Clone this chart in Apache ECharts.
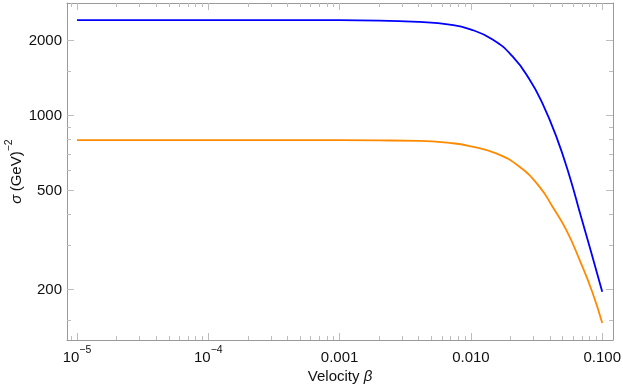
<!DOCTYPE html>
<html>
<head>
<meta charset="utf-8">
<script src="https://cdn.jsdelivr.net/npm/echarts@6/dist/echarts.min.js"></script>
<style>
html,body{margin:0;padding:0;background:#fff;}
#chart{width:623px;height:388px;}
</style>
</head>
<body>
<div id="chart"></div>
<script>
// ---- data (beta, sigma in GeV^-2) ----
const betaBlue  = [1e-5, 1e-4, 5e-4, 0.002, 0.00406, 0.00688, 0.00977, 0.01462, 0.02075, 0.02796, 0.03512, 0.04465, 0.05638, 0.06837, 0.0829, 0.1];
const sigmaBlue = [2418, 2418, 2417, 2407, 2376, 2319, 2225, 2021, 1727, 1396, 1117, 824, 570, 398, 279, 196];

const betaOrange  = [1e-5, 1e-4, 5e-4, 0.002, 0.00406, 0.00688, 0.00977, 0.0156, 0.02346, 0.03332, 0.04184, 0.05321, 0.0672, 0.08437, 0.1];
const sigmaOrange = [796, 796, 796, 794, 791, 776, 754, 704, 622, 517, 430, 347, 263, 194, 146.5];

// ---- ticks (raw values) ----
const xTickValues = [1e-5, 1e-4, 1e-3, 1e-2, 1e-1];
const xTickLabels = ['{m|10}{s|−5}', '{m|10}{s|−4}', '{m|0.001}', '{m|0.010}', '{m|0.100}'];
const xMinorTicks = [9e-6,
  2e-5, 3e-5, 4e-5, 5e-5, 6e-5, 7e-5, 8e-5, 9e-5,
  2e-4, 3e-4, 4e-4, 5e-4, 6e-4, 7e-4, 8e-4, 9e-4,
  2e-3, 3e-3, 4e-3, 5e-3, 6e-3, 7e-3, 8e-3, 9e-3,
  2e-2, 3e-2, 4e-2, 5e-2, 6e-2, 7e-2, 8e-2, 9e-2];
const yTickValues = [200, 500, 1000, 2000];
const yTickLabels = ['200', '500', '1000', '2000'];
const yMinorTicks = [150, 300, 400, 600, 700, 800, 900, 1500];

// axis ranges (log10 units)
const xMinL = -5.076, xMaxL = -0.918;
const yMinL = 2.098, yMaxL = 3.452;

const FONT = '"Liberation Sans", Arial, sans-serif';
const frameColor = '#9a9a9a';
const tickColor = '#bdbdbd';
const L = v => Math.log10(v);

function lookup(vals, labels, lv) {
  for (let i = 0; i < vals.length; i++) {
    if (Math.abs(lv - L(vals[i])) < 1e-6) return labels[i];
  }
  return '';
}
function pairs(xs, ys) { return xs.map((x, i) => [L(x), L(ys[i])]); }

const gridRect = {left: 67, right: 10, top: 3, bottom: 48, containLabel: false, outerBoundsMode: 'none'};

function baseAxis(gridIndex, position, ticks, len, lineShow, mn, mx) {
  return {
    type: 'value', gridIndex, position, min: mn, max: mx, scale: true,
    axisLine: {show: lineShow, onZero: false, lineStyle: {color: frameColor, width: 1}},
    axisTick: {show: true, inside: true, length: len, customValues: ticks.map(L), lineStyle: {color: tickColor, width: 1}},
    minorTick: {show: false},
    splitLine: {show: false},
    axisLabel: {show: false}
  };
}

function xAx(gridIndex, position, ticks, len, withLabels, lineShow) {
  const a = baseAxis(gridIndex, position, ticks, len, lineShow, xMinL, xMaxL);
  if (withLabels) {
    a.axisLabel = {
      show: true, customValues: xTickValues.map(L), margin: 5,
      formatter: v => lookup(xTickValues, xTickLabels, v),
      rich: {
        m: {fontFamily: FONT, fontSize: 15, color: '#111', verticalAlign: 'bottom', lineHeight: 20},
        s: {fontFamily: FONT, fontSize: 10.5, color: '#111', verticalAlign: 'top', lineHeight: 20}
      }
    };
    a.name = '{m|Velocity }{i|β}';
    a.nameLocation = 'middle';
    a.nameGap = 29;
    a.nameMoveOverlap = false;
    a.nameTextStyle = {
      rich: {
        m: {fontFamily: FONT, fontSize: 15, color: '#111'},
        i: {fontFamily: FONT, fontSize: 15, color: '#111', fontStyle: 'italic'}
      }
    };
  }
  return a;
}

function yAx(gridIndex, position, ticks, len, withLabels, lineShow) {
  const a = baseAxis(gridIndex, position, ticks, len, lineShow, yMinL, yMaxL);
  if (withLabels) {
    a.axisLabel = {
      show: true, customValues: yTickValues.map(L), margin: 5,
      formatter: v => lookup(yTickValues, yTickLabels, v),
      fontFamily: FONT, fontSize: 15, color: '#111'
    };
    a.name = '{i|σ} {m|(GeV)}{s|−2}';
    a.nameLocation = 'middle';
    a.nameGap = 43;
    a.nameMoveOverlap = false;
    a.nameTextStyle = {
      rich: {
        m: {fontFamily: FONT, fontSize: 15, color: '#111', verticalAlign: 'bottom', lineHeight: 20},
        i: {fontFamily: FONT, fontSize: 15, color: '#111', fontStyle: 'italic', verticalAlign: 'bottom', lineHeight: 20},
        s: {fontFamily: FONT, fontSize: 10.5, color: '#111', verticalAlign: 'top', lineHeight: 20}
      }
    };
  }
  return a;
}

const chart = echarts.init(document.getElementById('chart'), null, {renderer: 'canvas'});
chart.setOption({
  animation: false,
  backgroundColor: '#ffffff',
  grid: [Object.assign({}, gridRect), Object.assign({}, gridRect)],
  xAxis: [
    xAx(0, 'bottom', xTickValues, 7, true, true),
    xAx(0, 'top', xTickValues, 7, false, true),
    xAx(1, 'bottom', xMinorTicks, 4, false, false),
    xAx(1, 'top', xMinorTicks, 4, false, false)
  ],
  yAxis: [
    yAx(0, 'left', yTickValues, 7, true, true),
    yAx(0, 'right', yTickValues, 7, false, true),
    yAx(1, 'left', yMinorTicks, 4, false, false),
    yAx(1, 'right', yMinorTicks, 4, false, false)
  ],
  series: [
    {
      type: 'line', xAxisIndex: 0, yAxisIndex: 0,
      data: pairs(betaBlue, sigmaBlue),
      showSymbol: false, smooth: 0.5,
      lineStyle: {color: '#0000ff', width: 1.8}
    },
    {
      type: 'line', xAxisIndex: 0, yAxisIndex: 0,
      data: pairs(betaOrange, sigmaOrange),
      showSymbol: false, smooth: 0.5,
      lineStyle: {color: '#ff8a00', width: 1.8}
    }
  ]
});
</script>
</body>
</html>
